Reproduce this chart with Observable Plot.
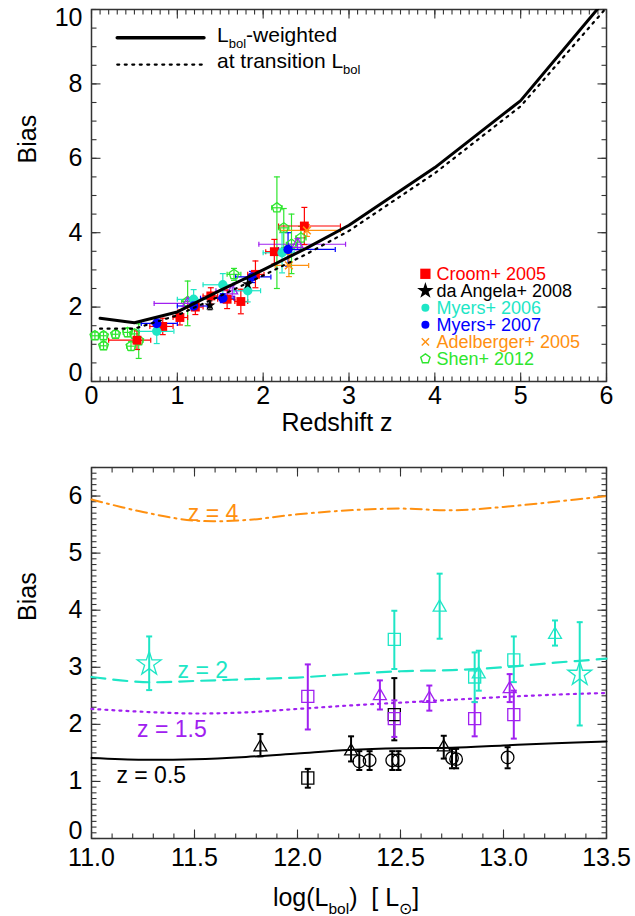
<!DOCTYPE html>
<html><head><meta charset="utf-8">
<script src="https://cdn.jsdelivr.net/npm/d3@7"></script>
<script src="https://cdn.jsdelivr.net/npm/@observablehq/plot@0.6"></script>
<style>
body{margin:0;background:#fff;}
#wrap{position:relative;width:635px;height:916px;overflow:hidden;background:#fff;}
#wrap svg{position:absolute;left:0;}
</style></head><body><div id="wrap"></div>
<script>
const FONT = '"Liberation Sans", Arial, Helvetica, sans-serif';
const RED="#ff0000", CYAN="#1ee6c6", BLUE="#0000ff", ORANGE="#ff9010", GREEN="#2ee62e", PURPLE="#a020f0", BLACK="#000000", AX="#333333";

// ---------- TOP PANEL: model curves ----------
const zGrid            = [0.1, 0.5, 1.0, 1.5, 2.0, 2.5, 3.0, 4.0, 5.0, 6.0];
const biasLbolWeighted = [1.70,1.58,1.87,2.45,3.00,3.58,4.20,5.75,7.55,10.3];
const biasTransition   = [1.42,1.42,1.78,2.30,2.85,3.42,4.05,5.60,7.40,10.05];

// ---------- TOP PANEL: observations ----------
const croomZ   = [0.53,0.83,1.03,1.21,1.39,1.58,1.74,1.91,2.13,2.48];
const croomB   = [1.11,1.48,1.72,2.00,2.30,2.21,2.15,2.88,3.49,4.18];
const croomBlo = [0.86,1.26,1.52,1.80,2.08,1.96,1.82,2.52,3.16,3.68];
const croomBhi = [1.36,1.70,1.92,2.20,2.52,2.46,2.48,3.24,3.82,4.68];
const croomZlo = [0.20,0.68,0.95,1.12,1.30,1.47,1.67,1.82,2.03,2.18];
const croomZhi = [0.69,0.95,1.12,1.30,1.47,1.67,1.82,2.01,2.24,2.90];

const daZ   = [1.38,1.82];
const daB   = [2.05,2.62];
const daBlo = [1.93,2.48];
const daBhi = [2.17,2.76];

const myers06Z   = [0.76,1.19,1.53,1.82,2.22];
const myers06B   = [1.35,2.21,2.60,2.44,3.46];
const myers06Blo = [1.02,1.95,2.30,2.14,2.92];
const myers06Bhi = [1.66,2.47,2.90,2.74,4.00];
const myers06Zlo = [0.55,1.00,1.30,1.66,2.00];
const myers06Zhi = [0.96,1.38,1.65,1.97,2.36];

const myers07Z   = [0.76,1.19,1.53,1.87,2.29];
const myers07B   = [1.56,2.03,2.24,2.81,3.55];
const myers07Blo = [1.44,1.91,2.12,2.66,3.10];
const myers07Bhi = [1.68,2.15,2.36,2.96,4.00];
const myers07Zlo = [0.58,1.00,1.27,1.68,2.18];
const myers07Zhi = [1.00,1.35,1.66,2.09,2.84];

const adelZ   = [2.30,2.51];
const adelB   = [3.12,4.06];
const adelBlo = [2.82,3.90];
const adelBhi = [3.42,4.22];
const adelZlo = [2.14,2.20];
const adelZhi = [2.53,2.90];

const shenZ   = [0.04,0.14,0.14,0.28,0.42,0.46,0.50,0.55,1.12,1.66,2.16,2.24,2.33,2.44];
const shenB   = [1.23,1.23,0.96,1.27,1.32,0.95,1.28,1.10,2.15,2.88,4.67,4.13,3.69,3.86];
const shenBlo = [1.13,1.13,0.86,1.17,1.20,0.83,1.16,0.62,1.50,2.72,2.50,3.60,2.90,3.55];
const shenBhi = [1.33,1.33,1.06,1.37,1.44,1.07,1.40,1.55,2.70,3.04,5.50,4.65,4.50,4.17];
const shenZlo = [0.00,0.10,0.10,0.24,0.37,0.41,0.45,0.50,1.05,1.58,2.10,2.18,2.27,2.38];
const shenZhi = [0.08,0.18,0.18,0.32,0.47,0.51,0.55,0.60,1.19,1.74,2.22,2.30,2.39,2.50];

const purpleZ   = [1.12,1.64,2.40];
const purpleB   = [2.10,2.44,3.69];
const purpleBlo = [2.00,2.29,3.54];
const purpleBhi = [2.20,2.59,3.84];
const purpleZlo = [0.73,1.45,1.95];
const purpleZhi = [1.20,1.85,2.96];

const legendNames  = ["Croom+ 2005","da Angela+ 2008","Myers+ 2006","Myers+ 2007","Adelberger+ 2005","Shen+ 2012"];
const legendColors = [RED, BLACK, CYAN, BLUE, ORANGE, GREEN];
const legendBias   = [2.895, 2.438, 1.981, 1.524, 1.067, 0.610];
const legendZ      = 3.89;

const topXTicks = [0,1,2,3,4,5,6];
const topYTicks = [2,4,6,8];

// ---------- BOTTOM PANEL ----------
const logL      = [11.0,11.25,11.5,11.75,12.0,12.25,12.5,12.75,13.0,13.25,13.5];
const biasZ4    = [5.94,5.72,5.57,5.58,5.68,5.75,5.78,5.75,5.81,5.90,6.00];
const biasZ2    = [2.83,2.74,2.76,2.79,2.82,2.88,2.93,2.95,3.00,3.08,3.15];
const biasZ15   = [2.27,2.22,2.19,2.21,2.27,2.33,2.38,2.43,2.48,2.52,2.55];
const biasZ05   = [1.41,1.38,1.39,1.43,1.49,1.55,1.58,1.59,1.63,1.67,1.70];

const curveLabels = ["z = 4","z = 2","z = 1.5","z = 0.5"];
const curveLabelX = [11.59,11.54,11.39,11.29];
const curveLabelY = [5.70,2.94,1.91,1.10];
const curveColors = [ORANGE, CYAN, PURPLE, BLACK];

const cyanStarX=[11.28,13.37], cyanStarB=[3.06,2.88], cyanStarLo=[2.60,1.98], cyanStarHi=[3.54,3.79];
const cyanSqX=[12.47,12.86,13.05], cyanSqB=[3.49,2.83,3.13], cyanSqLo=[2.97,2.39,2.74], cyanSqHi=[3.99,3.26,3.54];
const cyanTriX=[12.69,12.88,13.25], cyanTriB=[4.05,2.88,3.57], cyanTriLo=[3.50,2.59,3.38], cyanTriHi=[4.64,3.29,3.82];
const purpSqX=[12.05,12.47,12.86,13.05], purpSqB=[2.49,2.10,2.10,2.17], purpSqLo=[1.91,1.78,1.79,1.75], purpSqHi=[3.05,2.42,2.39,2.59];
const purpTriX=[12.40,12.64,13.03], purpTriB=[2.50,2.45,2.62], purpTriLo=[2.26,2.24,2.39], purpTriHi=[2.77,2.68,2.88];
const blkSqX=[12.05,12.47], blkSqB=[1.06,2.17], blkSqLo=[0.89,1.72], blkSqHi=[1.22,2.81];
const blkTriX=[11.82,12.26,12.71], blkTriB=[1.60,1.53,1.60], blkTriLo=[1.44,1.35,1.40], blkTriHi=[1.83,1.79,1.80];
const blkCircX=[12.30,12.35,12.46,12.49,12.75,12.77,13.02], blkCircB=[1.35,1.37,1.37,1.37,1.41,1.39,1.42];
const blkCircLo=[1.20,1.20,1.20,1.20,1.23,1.23,1.23], blkCircHi=[1.53,1.53,1.53,1.53,1.57,1.57,1.60];

const botXTicks = [11.0,11.5,12.0,12.5,13.0,13.5];
const botYTicks = [1,2,3,4,5,6];

// ---------- helpers ----------
const capH = w => ({draw(c){c.moveTo(-w/2,0);c.lineTo(w/2,0);}});
const capV = h => ({draw(c){c.moveTo(0,-h/2);c.lineTo(0,h/2);}});
const tUp = L => ({draw(c){c.moveTo(0,0);c.lineTo(0,-L);}});
const tDown = L => ({draw(c){c.moveTo(0,0);c.lineTo(0,L);}});
const tRight = L => ({draw(c){c.moveTo(0,0);c.lineTo(L,0);}});
const tLeft = L => ({draw(c){c.moveTo(0,0);c.lineTo(-L,0);}});
const pentagon = {draw(c,size){const R=Math.sqrt(size/Math.PI)*1.12;for(let k=0;k<5;k++){const a=-Math.PI/2+k*2*Math.PI/5;const px=R*Math.cos(a),py=R*Math.sin(a);k?c.lineTo(px,py):c.moveTo(px,py);}c.closePath();}};

function rows(x,y,lo,hi,xlo,xhi){return x.map((d,i)=>({x:d,y:y[i],lo:lo?lo[i]:null,hi:hi?hi[i]:null,xlo:xlo?xlo[i]:null,xhi:xhi?xhi[i]:null}));}

function errY(data,color,sw,cap){return [
  Plot.ruleX(data,{x:"x",y1:"lo",y2:"hi",stroke:color,strokeWidth:sw}),
  Plot.dot(data,{x:"x",y:"lo",symbol:capH(cap),stroke:color,strokeWidth:sw}),
  Plot.dot(data,{x:"x",y:"hi",symbol:capH(cap),stroke:color,strokeWidth:sw})];}
function errX(data,color,sw,cap){return [
  Plot.ruleY(data,{y:"y",x1:"xlo",x2:"xhi",stroke:color,strokeWidth:sw}),
  Plot.dot(data,{x:"xlo",y:"y",symbol:capV(cap),stroke:color,strokeWidth:sw}),
  Plot.dot(data,{x:"xhi",y:"y",symbol:capV(cap),stroke:color,strokeWidth:sw})];}

function frameTicks(xMaj,xMin,yMaj,yMin,L,l){
  const o={stroke:AX,strokeWidth:1.1};
  return [
    Plot.dot(xMin,{x:d=>d,frameAnchor:"bottom",symbol:tUp(l),...o}),
    Plot.dot(xMaj,{x:d=>d,frameAnchor:"bottom",symbol:tUp(L),...o}),
    Plot.dot(xMin,{x:d=>d,frameAnchor:"top",symbol:tDown(l),...o}),
    Plot.dot(xMaj,{x:d=>d,frameAnchor:"top",symbol:tDown(L),...o}),
    Plot.dot(yMin,{y:d=>d,frameAnchor:"left",symbol:tRight(l),...o}),
    Plot.dot(yMaj,{y:d=>d,frameAnchor:"left",symbol:tRight(L),...o}),
    Plot.dot(yMin,{y:d=>d,frameAnchor:"right",symbol:tLeft(l),...o}),
    Plot.dot(yMaj,{y:d=>d,frameAnchor:"right",symbol:tLeft(L),...o})];}

function rich(svg,x,y,parts,size,anchor,color){
  const t=d3.select(svg).append("text").attr("x",x).attr("y",y).attr("font-size",size)
    .attr("font-family",FONT).attr("text-anchor",anchor||"start").attr("fill",color||"#000");
  let cur=0;
  for(const [s,sub] of parts){const off=sub?size*0.30:0;
    const sp=t.append("tspan").attr("dy",off-cur).text(s);
    if(sub) sp.attr("font-size",size*0.62);
    cur=off;}
}

const wrap=document.getElementById("wrap");

// ---------- TOP PLOT ----------
const curveW = zGrid.map((z,i)=>({z,b:biasLbolWeighted[i]}));
const curveT = zGrid.map((z,i)=>({z,b:biasTransition[i]}));
const croom = rows(croomZ,croomB,croomBlo,croomBhi,croomZlo,croomZhi);
const da = rows(daZ,daB,daBlo,daBhi);
const m6 = rows(myers06Z,myers06B,myers06Blo,myers06Bhi,myers06Zlo,myers06Zhi);
const m7 = rows(myers07Z,myers07B,myers07Blo,myers07Bhi,myers07Zlo,myers07Zhi);
const adel = rows(adelZ,adelB,adelBlo,adelBhi,adelZlo,adelZhi);
const shen = rows(shenZ,shenB,shenBlo,shenBhi,shenZlo,shenZhi);
const purp = rows(purpleZ,purpleB,purpleBlo,purpleBhi,purpleZlo,purpleZhi);
const legend = legendNames.map((n,i)=>({n,c:legendColors[i],b:legendBias[i]}));
const legSym=[
  {sym:"square",r:5.8,fill:RED,stroke:"none"},
  {sym:"star",r:5.2,fill:BLACK,stroke:"none"},
  {sym:"circle",r:4.0,fill:CYAN,stroke:"none"},
  {sym:"circle",r:4.0,fill:BLUE,stroke:"none"},
  {sym:"times",r:3.4,fill:"none",stroke:ORANGE},
  {sym:pentagon,r:4.4,fill:"none",stroke:GREEN}];

const topPlot = Plot.plot({
  width:635, height:455, marginLeft:91, marginRight:29, marginTop:9, marginBottom:74,
  x:{domain:[0,6], axis:null}, y:{domain:[0,10], axis:null},
  style:{fontFamily:FONT, background:"transparent", color:"#000"},
  marks:[
    ...frameTicks(topXTicks, d3.range(0,6.001,0.1), [0,2,4,6,8,10], d3.range(0,10.001,0.5), 9, 5),
    Plot.frame({stroke:AX,strokeWidth:1.5}),
    Plot.text(topXTicks,{x:d=>d,frameAnchor:"bottom",dy:22,text:d=>String(d),fontSize:25}),
    Plot.text(topYTicks,{y:d=>d,frameAnchor:"left",dx:-9,textAnchor:"end",text:d=>String(d),fontSize:25}),
    Plot.text([0],{y:d=>d,frameAnchor:"left",dx:-9,dy:-9,textAnchor:"end",text:d=>String(d),fontSize:25}),
    Plot.text([10],{y:d=>d,frameAnchor:"left",dx:-9,dy:8,textAnchor:"end",text:d=>String(d),fontSize:25}),
    Plot.text(["Redshift z"],{frameAnchor:"bottom",dy:49,dx:-12,text:d=>d,fontSize:25}),
    Plot.text(["Bias"],{frameAnchor:"left",dx:-64,dy:-32,rotate:-90,text:d=>d,fontSize:25}),
    // error bars
    ...errX(shen,GREEN,1.2,5), ...errY(shen,GREEN,1.2,6),
    ...errX(purp,PURPLE,1.2,5), ...errY(purp,PURPLE,1.2,6),
    ...errX(croom,RED,1.2,5), ...errY(croom,RED,1.2,6),
    ...errX(m6,CYAN,1.2,5), ...errY(m6,CYAN,1.2,6),
    ...errX(m7,BLUE,1.2,5), ...errY(m7,BLUE,1.2,6),
    ...errX(adel,ORANGE,1.2,5), ...errY(adel,ORANGE,1.2,6),
    ...errY(da,BLACK,1.2,5),
    // symbols
    Plot.dot(shen,{x:"x",y:"y",symbol:pentagon,r:4.6,stroke:GREEN,strokeWidth:1.3,fill:"none"}),
    Plot.dot(purp,{x:"x",y:"y",symbol:"triangle",r:4,stroke:PURPLE,strokeWidth:1.3,fill:"none"}),
    Plot.dot(croom,{x:"x",y:"y",symbol:"square",r:5,fill:RED}),
    Plot.dot(m6,{x:"x",y:"y",r:4.7,fill:CYAN}),
    Plot.dot(m7,{x:"x",y:"y",r:4.7,fill:BLUE}),
    Plot.dot(adel,{x:"x",y:"y",symbol:"times",r:3.6,stroke:ORANGE,strokeWidth:1.5}),
    Plot.dot(da,{x:"x",y:"y",symbol:"star",r:3.5,fill:BLACK}),
    // model curves
    Plot.line(curveT,{x:"z",y:"b",stroke:BLACK,strokeWidth:2.2,strokeDasharray:"2,5.5",clip:true}),
    Plot.line(curveW,{x:"z",y:"b",stroke:BLACK,strokeWidth:3,clip:true}),
    // top-left legend lines
    Plot.line([{z:0.30,b:9.24},{z:1.31,b:9.24}],{x:"z",y:"b",stroke:BLACK,strokeWidth:3.5}),
    Plot.line([{z:0.30,b:8.52},{z:1.31,b:8.52}],{x:"z",y:"b",stroke:BLACK,strokeWidth:2.2,strokeDasharray:"2,5.5"}),
    // right legend
    ...legSym.map((s,i)=>Plot.dot([legend[i]],{x:()=>legendZ,y:"b",symbol:s.sym,r:s.r,fill:s.fill,stroke:s.stroke,strokeWidth:1.4})),
    Plot.text(legend,{x:()=>legendZ,y:"b",dx:11,text:"n",fill:"c",textAnchor:"start",fontSize:18})
  ]
});
topPlot.style.top="0px";
wrap.appendChild(topPlot);
rich(topPlot,217,42,[["L"],["bol",true],["-weighted"]],21,"start");
rich(topPlot,217,68,[["at transition L"],["bol",true]],21,"start");

// ---------- BOTTOM PLOT ----------
const mk=(arr)=>logL.map((x,i)=>({x,b:arr[i]}));
const cLabels=curveLabels.map((t,i)=>({t,x:curveLabelX[i],y:curveLabelY[i],c:curveColors[i]}));
const cStar=rows(cyanStarX,cyanStarB,cyanStarLo,cyanStarHi);
const cSq=rows(cyanSqX,cyanSqB,cyanSqLo,cyanSqHi);
const cTri=rows(cyanTriX,cyanTriB,cyanTriLo,cyanTriHi);
const pSq=rows(purpSqX,purpSqB,purpSqLo,purpSqHi);
const pTri=rows(purpTriX,purpTriB,purpTriLo,purpTriHi);
const bSq=rows(blkSqX,blkSqB,blkSqLo,blkSqHi);
const bTri=rows(blkTriX,blkTriB,blkTriLo,blkTriHi);
const bCirc=rows(blkCircX,blkCircB,blkCircLo,blkCircHi);

const botPlot = Plot.plot({
  width:635, height:461, marginLeft:91, marginRight:29, marginTop:12, marginBottom:78,
  x:{domain:[11,13.5], axis:null}, y:{domain:[0,6.5], axis:null},
  style:{fontFamily:FONT, background:"transparent", color:"#000"},
  marks:[
    ...frameTicks(botXTicks, d3.range(11,13.501,0.1), [0,1,2,3,4,5,6], d3.range(0,6.501,0.1), 9, 5),
    Plot.frame({stroke:AX,strokeWidth:1.5}),
    Plot.text(botXTicks,{x:d=>d,frameAnchor:"bottom",dy:27,text:d=>d.toFixed(1),fontSize:25}),
    Plot.text(botYTicks,{y:d=>d,frameAnchor:"left",dx:-9,textAnchor:"end",text:d=>String(d),fontSize:25}),
    Plot.text([0],{y:d=>d,frameAnchor:"left",dx:-9,dy:-8,textAnchor:"end",text:d=>String(d),fontSize:25}),
    Plot.text(["Bias"],{frameAnchor:"left",dx:-64,dy:-32,rotate:-90,text:d=>d,fontSize:25}),
    Plot.line(mk(biasZ4),{x:"x",y:"b",stroke:ORANGE,strokeWidth:2,strokeDasharray:"11,5,2,5",curve:"catmull-rom"}),
    Plot.line(mk(biasZ2),{x:"x",y:"b",stroke:CYAN,strokeWidth:2.2,strokeDasharray:"14,8",curve:"catmull-rom"}),
    Plot.line(mk(biasZ15),{x:"x",y:"b",stroke:PURPLE,strokeWidth:2.2,strokeDasharray:"2,5",curve:"catmull-rom"}),
    Plot.line(mk(biasZ05),{x:"x",y:"b",stroke:BLACK,strokeWidth:2,curve:"catmull-rom"}),
    Plot.text(cLabels,{x:"x",y:"y",text:"t",fill:"c",fontSize:23}),
    ...errY(bCirc,BLACK,2,6), ...errY(bTri,BLACK,2,6), ...errY(bSq,BLACK,2,6),
    ...errY(pSq,PURPLE,2,6), ...errY(pTri,PURPLE,2,6),
    ...errY(cSq,CYAN,2,6), ...errY(cTri,CYAN,2,6), ...errY(cStar,CYAN,2,6),
    Plot.dot(bCirc,{x:"x",y:"y",r:6.3,stroke:BLACK,strokeWidth:1.3,fill:"none"}),
    Plot.dot(bTri,{x:"x",y:"y",symbol:"triangle",r:4.8,stroke:BLACK,strokeWidth:1.3,fill:"none"}),
    Plot.dot(bSq,{x:"x",y:"y",symbol:"square",r:6.8,stroke:BLACK,strokeWidth:1.3,fill:"none"}),
    Plot.dot(pSq,{x:"x",y:"y",symbol:"square",r:6.8,stroke:PURPLE,strokeWidth:1.3,fill:"none"}),
    Plot.dot(pTri,{x:"x",y:"y",symbol:"triangle",r:4.8,stroke:PURPLE,strokeWidth:1.3,fill:"none"}),
    Plot.dot(cSq,{x:"x",y:"y",symbol:"square",r:6.8,stroke:CYAN,strokeWidth:1.3,fill:"none"}),
    Plot.dot(cTri,{x:"x",y:"y",symbol:"triangle",r:4.8,stroke:CYAN,strokeWidth:1.3,fill:"none"}),
    Plot.dot(cStar,{x:"x",y:"y",symbol:"star",r:7.5,stroke:CYAN,strokeWidth:1.3,fill:"none"})
  ]
});
botPlot.style.top="455px";
wrap.appendChild(botPlot);
rich(botPlot,346,451,[["log(L"],["bol",true],[")  [ L"],["\u2299",true],["]"]],25,"middle");
</script></body></html>
